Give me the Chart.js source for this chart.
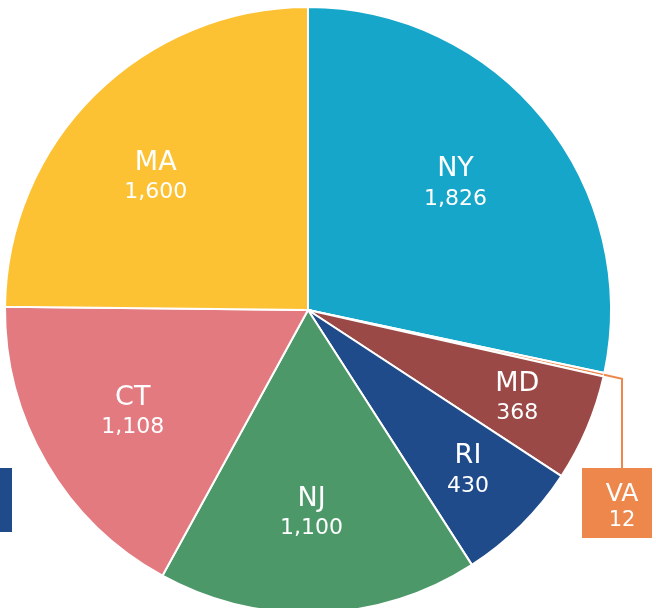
<!DOCTYPE html>
<html>
<head>
<meta charset="utf-8">
<script src="https://cdn.jsdelivr.net/npm/chart.js@4.4.0/dist/chart.umd.min.js"></script>
<style>
  html,body{margin:0;padding:0;background:#fff;overflow:hidden;width:656px;height:608px;}
  canvas{display:block;}
</style>
</head>
<body>
<canvas id="chart" width="656" height="614"></canvas>
<script>
/* ---- data (clockwise from 12 o'clock) ---- */
const states = ['NY','VA','MD','RI','NJ','CT','MA'];
const counts = [1826, 12, 368, 430, 1100, 1108, 1600];
const colors = ['#16a6c9','#ee874b','#9a4946','#1f4b8b','#4c9868','#e27a80','#fdc233'];
// label placement: fraction of radius + small angle nudge (deg). VA gets a callout.
const labelRad = [0.64, 0, 0.75, 0.75, 0.672, 0.67, 0.666];
const labelNudge = [-1.5, 0, 0, 0, 1, 0, -4.3];

const fmt = v => v.toLocaleString('en-US');
const FONT = '"DejaVu Sans", Verdana, sans-serif';

const labelPlugin = {
  id:'sliceLabels',
  afterDatasetsDraw(chart){
    const {ctx} = chart;
    const arcs = chart.getDatasetMeta(0).data;
    ctx.save();
    ctx.textAlign = 'center';
    ctx.textBaseline = 'middle';
    ctx.fillStyle = '#fff';
    arcs.forEach((a,i)=>{
      const mid = (a.startAngle + a.endAngle)/2;
      if (states[i] === 'VA') {
        // callout: leader line + box
        const px = a.x + Math.cos(mid)*a.outerRadius;
        const py = a.y + Math.sin(mid)*a.outerRadius;
        const lx = 622;
        const ly = py + (lx - px)*Math.tan(mid);
        ctx.strokeStyle = colors[i];
        ctx.lineWidth = 2;
        ctx.beginPath();
        ctx.moveTo(px,py); ctx.lineTo(lx,ly); ctx.lineTo(lx,468);
        ctx.stroke();
        ctx.fillStyle = colors[i];
        ctx.fillRect(582,468,70,70);
        ctx.fillStyle = '#fff';
        ctx.font = '25px ' + FONT;
        ctx.fillText(states[i], lx, 494);
        ctx.font = '21px ' + FONT;
        ctx.fillText(fmt(counts[i]), lx, 521);
        return;
      }
      const ang = mid + labelNudge[i]*Math.PI/180;
      const r = a.outerRadius*labelRad[i];
      const x = a.x + Math.cos(ang)*r;
      const y = a.y + Math.sin(ang)*r;
      ctx.font = '27px ' + FONT;
      ctx.fillText(states[i], x, y-15);
      ctx.font = '22px ' + FONT;
      ctx.fillText(fmt(counts[i]), x, y+15);
    });
    // cropped legend swatch at the left edge
    ctx.fillStyle = '#1f4b8b';
    ctx.fillRect(0,468,12,64);
    ctx.restore();
  }
};

new Chart(document.getElementById('chart'),{
  type:'pie',
  data:{
    labels:states,
    datasets:[{ data:counts, backgroundColor:colors, borderColor:'#fff', borderWidth:2 }]
  },
  options:{
    responsive:false,
    animation:false,
    layout:{ padding:{left:4, top:6, right:44, bottom:0} },
    plugins:{ legend:{display:false}, tooltip:{enabled:false} }
  },
  plugins:[labelPlugin]
});
</script>
</body>
</html>
